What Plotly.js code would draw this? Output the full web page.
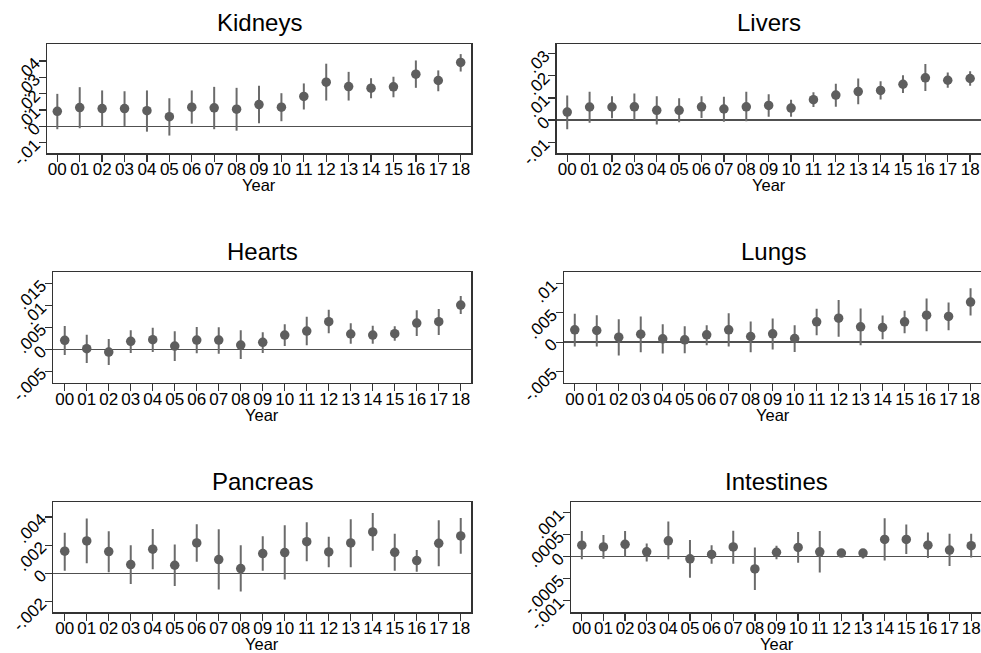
<!DOCTYPE html>
<html>
<head>
<meta charset="utf-8">
<script src="https://cdn.plot.ly/plotly-3.0.1.min.js"></script>
<style>
  html, body { margin: 0; padding: 0; background: #fff; overflow: hidden; }
  #chart { width: 984px; height: 653px; }
</style>
</head>
<body>
<div id="chart"></div>
<script>
// Year categories on the horizontal axis
const years = ['00','01','02','03','04','05','06','07','08','09','10','11','12','13','14','15','16','17','18'];

// Point estimates with lower / upper confidence bounds, one set per organ
const kidneysEst = [0.0092, 0.0115, 0.0109, 0.0109, 0.0096, 0.0059, 0.0117, 0.0113, 0.0105, 0.0133, 0.0117, 0.0183, 0.0271, 0.0244, 0.0234, 0.0242, 0.0320, 0.0281, 0.0392];
const kidneysLo  = [-0.0018, -0.0012, -0.0002, 0.0002, -0.0033, -0.0057, 0.0016, -0.0018, -0.0027, 0.0018, 0.0031, 0.0103, 0.0158, 0.0158, 0.0172, 0.0178, 0.0236, 0.0215, 0.0336];
const kidneysHi  = [0.0199, 0.0240, 0.0220, 0.0215, 0.0220, 0.0172, 0.0220, 0.0242, 0.0236, 0.0248, 0.0203, 0.0263, 0.0384, 0.0334, 0.0295, 0.0304, 0.0404, 0.0343, 0.0443];

const liversEst = [0.0036, 0.0059, 0.0059, 0.0060, 0.0044, 0.0044, 0.0060, 0.0050, 0.0060, 0.0066, 0.0054, 0.0092, 0.0113, 0.0129, 0.0134, 0.0162, 0.0191, 0.0180, 0.0188];
const liversLo  = [-0.0042, -0.0012, 0.0008, 0.0000, -0.0020, -0.0010, 0.0009, -0.0008, -0.0005, 0.0015, 0.0015, 0.0059, 0.0060, 0.0071, 0.0093, 0.0122, 0.0131, 0.0146, 0.0155];
const liversHi  = [0.0111, 0.0128, 0.0108, 0.0120, 0.0108, 0.0099, 0.0108, 0.0105, 0.0128, 0.0117, 0.0092, 0.0126, 0.0164, 0.0188, 0.0176, 0.0203, 0.0253, 0.0215, 0.0221];

const heartsEst = [0.00205, 0.00015, -0.00061, 0.00183, 0.00220, 0.00076, 0.00213, 0.00213, 0.00099, 0.00160, 0.00327, 0.00418, 0.00631, 0.00350, 0.00327, 0.00357, 0.00600, 0.00631, 0.01011];
const heartsLo  = [-0.00129, -0.00312, -0.00357, -0.00084, -0.00061, -0.00266, -0.00091, -0.00099, -0.00220, -0.00084, 0.00076, 0.00091, 0.00365, 0.00129, 0.00129, 0.00198, 0.00304, 0.00327, 0.00806];
const heartsHi  = [0.00532, 0.00335, 0.00236, 0.00433, 0.00494, 0.00411, 0.00510, 0.00502, 0.00433, 0.00388, 0.00570, 0.00745, 0.00905, 0.00593, 0.00540, 0.00525, 0.00890, 0.00920, 0.01217];

const lungsEst = [0.00210, 0.00199, 0.00085, 0.00136, 0.00057, 0.00040, 0.00125, 0.00210, 0.00097, 0.00142, 0.00063, 0.00347, 0.00409, 0.00261, 0.00250, 0.00347, 0.00460, 0.00438, 0.00682];
const lungsLo  = [-0.00074, -0.00074, -0.00227, -0.00170, -0.00193, -0.00188, -0.00051, -0.00074, -0.00170, -0.00125, -0.00165, 0.00119, 0.00091, -0.00051, 0.00051, 0.00153, 0.00188, 0.00205, 0.00455];
const lungsHi  = [0.00483, 0.00460, 0.00392, 0.00438, 0.00307, 0.00273, 0.00290, 0.00494, 0.00352, 0.00403, 0.00290, 0.00568, 0.00716, 0.00574, 0.00455, 0.00534, 0.00744, 0.00676, 0.00915];

const pancreasEst = [0.00157, 0.00230, 0.00154, 0.00062, 0.00171, 0.00057, 0.00216, 0.00097, 0.00033, 0.00140, 0.00147, 0.00225, 0.00152, 0.00216, 0.00294, 0.00149, 0.00090, 0.00213, 0.00266];
const pancreasLo  = [0.00017, 0.00071, 0.00007, -0.00076, 0.00028, -0.00090, 0.00081, -0.00116, -0.00130, 0.00017, -0.00045, 0.00085, 0.00043, 0.00043, 0.00161, 0.00017, 0.00010, 0.00050, 0.00138];
const pancreasHi  = [0.00289, 0.00389, 0.00299, 0.00199, 0.00315, 0.00204, 0.00349, 0.00313, 0.00199, 0.00263, 0.00342, 0.00363, 0.00259, 0.00384, 0.00429, 0.00282, 0.00166, 0.00377, 0.00394];

const intestinesEst = [0.00026, 0.00022, 0.00028, 0.00011, 0.00036, -0.00005, 0.00005, 0.00022, -0.00028, 0.00010, 0.00021, 0.00011, 0.00008, 0.00008, 0.00039, 0.00039, 0.00026, 0.00015, 0.00025];
const intestinesLo  = [-0.00006, -0.00005, 0.00000, -0.00011, -0.00006, -0.00048, -0.00016, -0.00016, -0.00076, -0.00006, -0.00014, -0.00036, -0.00001, -0.00004, -0.00009, 0.00006, -0.00003, -0.00021, -0.00002];
const intestinesHi  = [0.00058, 0.00049, 0.00058, 0.00030, 0.00080, 0.00038, 0.00026, 0.00059, 0.00021, 0.00025, 0.00056, 0.00058, 0.00016, 0.00017, 0.00087, 0.00073, 0.00055, 0.00052, 0.00052];

// Panel titles and y-axis tick values / labels
const panelTitles = ['Kidneys', 'Livers', 'Hearts', 'Lungs', 'Pancreas', 'Intestines'];
const kidneysTicks = [-0.01, 0, 0.01, 0.02, 0.03, 0.04];
const kidneysTickText = ['-.01', '0', '.01', '.02', '.03', '.04'];
const liversTicks = [-0.01, 0, 0.01, 0.02, 0.03];
const liversTickText = ['-.01', '0', '.01', '.02', '.03'];
const heartsTicks = [-0.005, 0, 0.005, 0.01, 0.015];
const heartsTickText = ['-.005', '0', '.005', '.01', '.015'];
const lungsTicks = [-0.005, 0, 0.005, 0.01];
const lungsTickText = ['-.005', '0', '.005', '.01'];
const pancreasTicks = [-0.002, 0, 0.002, 0.004];
const pancreasTickText = ['-.002', '0', '.002', '.004'];
const intestinesTicks = [-0.001, -0.0005, 0, 0.0005, 0.001];
const intestinesTickText = ['-.001', '-.0005', '0', '.0005', '.001'];
const xAxisLabel = 'Year';

// ---- drawing ----
const W = 984, H = 653;
const FONT = 'Liberation Sans, Arial, sans-serif';
const INK = '#333333';

const panels = [
  { est: kidneysEst,    lo: kidneysLo,    hi: kidneysHi,    tv: kidneysTicks,    tt: kidneysTickText,
    box: [47, 44, 471, 153],     yr: [-0.0164, 0.0505],   xr: [-0.46, 18.46] },
  { est: liversEst,     lo: liversLo,     hi: liversHi,     tv: liversTicks,     tt: liversTickText,
    box: [556.7, 44, 982, 153],  yr: [-0.0149, 0.0344],   xr: [-0.47, 18.53] },
  { est: heartsEst,     lo: heartsLo,     hi: heartsHi,     tv: heartsTicks,     tt: heartsTickText,
    box: [53.3, 272.3, 471.3, 382.7], yr: [-0.0076, 0.01757], xr: [-0.52, 18.48] },
  { est: lungsEst,      lo: lungsLo,      hi: lungsHi,      tv: lungsTicks,      tt: lungsTickText,
    box: [564, 272.3, 982, 382.7], yr: [-0.00688, 0.01188], xr: [-0.49, 18.52] },
  { est: pancreasEst,   lo: pancreasLo,   hi: pancreasHi,   tv: pancreasTicks,   tt: pancreasTickText,
    box: [53.3, 502.3, 471.3, 612.3], yr: [-0.00278, 0.00505], xr: [-0.52, 18.48] },
  { est: intestinesEst, lo: intestinesLo, hi: intestinesHi, tv: intestinesTicks, tt: intestinesTickText,
    box: [571, 502.3, 982, 612.3], yr: [-0.001265, 0.001235], xr: [-0.5, 18.5] }
];

const data = [];
const layout = {
  width: W, height: H,
  margin: { l: 0, r: 0, t: 0, b: 0, pad: 0 },
  paper_bgcolor: '#ffffff', plot_bgcolor: '#ffffff',
  showlegend: false,
  font: { family: FONT, color: '#000000', size: 17 },
  annotations: []
};

panels.forEach((p, i) => {
  const n = i + 1;
  const xa = 'x' + (n === 1 ? '' : n), ya = 'y' + (n === 1 ? '' : n);
  const [l, t, r, b] = p.box;

  data.push({
    type: 'scatter', mode: 'markers',
    x: years, y: p.est, xaxis: xa, yaxis: ya,
    marker: { size: 9.5, color: '#5e5e5e' },
    error_y: {
      type: 'data', symmetric: false,
      array: p.hi.map((h, k) => h - p.est[k]),
      arrayminus: p.lo.map((v, k) => p.est[k] - v),
      width: 0, thickness: 2, color: '#6b6b6b'
    },
    hoverinfo: 'skip'
  });

  layout['xaxis' + (n === 1 ? '' : n)] = {
    domain: [l / W, r / W], anchor: ya, type: 'category',
    range: p.xr, tickmode: 'array', tickvals: years, ticktext: years,
    showline: true, mirror: true, linecolor: INK, linewidth: 1.5,
    ticks: 'outside', ticklen: 7, tickwidth: 1.3, tickcolor: INK,
    ticklabelstandoff: -7,
    showgrid: false, zeroline: false,
    tickfont: { family: FONT, size: 17, color: '#000' }, fixedrange: true
  };
  layout['yaxis' + (n === 1 ? '' : n)] = {
    domain: [1 - b / H, 1 - t / H], anchor: xa,
    range: p.yr, tickmode: 'array', tickvals: p.tv, ticktext: p.tt, tickangle: -45,
    showline: true, mirror: true, linecolor: INK, linewidth: 1.5,
    ticks: 'outside', ticklen: 7, tickwidth: 1.3, tickcolor: INK,
    showgrid: false, zeroline: true, zerolinecolor: '#505050', zerolinewidth: 1.5,
    tickfont: { family: FONT, size: 17, color: '#000' }, fixedrange: true
  };

  // panel title
  layout.annotations.push({
    text: panelTitles[i], xref: 'paper', yref: 'paper',
    x: (l + r) / 2 / W, y: 1 - (t - 21) / H, xanchor: 'center', yanchor: 'middle',
    showarrow: false, font: { family: FONT, size: 24, color: '#000' }
  });
  // x-axis label
  layout.annotations.push({
    text: xAxisLabel, xref: 'paper', yref: 'paper',
    x: (l + r) / 2 / W, y: 1 - (b + 32) / H, xanchor: 'center', yanchor: 'middle',
    showarrow: false, font: { family: FONT, size: 16.5, color: '#000' }
  });
});

Plotly.newPlot('chart', data, layout, { staticPlot: true, displayModeBar: false });
</script>
</body>
</html>
